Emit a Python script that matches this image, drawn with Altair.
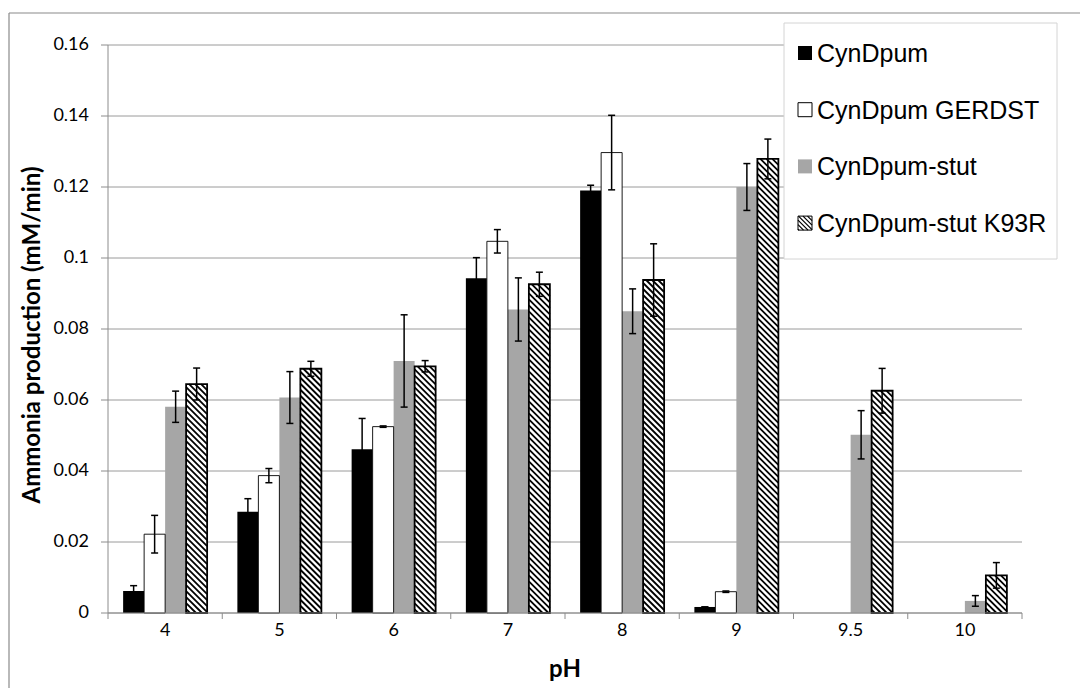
import altair as alt
import pandas as pd

# pH groups along the x axis and the four enzyme variants
ph_labels = ["4", "5", "6", "7", "8", "9", "9.5", "10"]
series = ["CynDpum", "CynDpum GERDST", "CynDpum-stut", "CynDpum-stut K93R"]

# ammonia production rates (mM/min) and their error bars; None = not measured
cyndpum = [0.0062, 0.0285, 0.0461, 0.0943, 0.1190, 0.0017, None, None]
cyndpum_err = [0.0015, 0.0037, 0.0087, 0.0058, 0.0015, 0.0, None, None]
gerdst = [0.0222, 0.0387, 0.0525, 0.1047, 0.1297, 0.0060, None, None]
gerdst_err = [0.0053, 0.0020, 0.0002, 0.0033, 0.0105, 0.0002, None, None]
stut = [0.0581, 0.0607, 0.0710, 0.0855, 0.0850, 0.1200, 0.0502, 0.0034]
stut_err = [0.0044, 0.0073, 0.0130, 0.0089, 0.0063, 0.0066, 0.0068, 0.0015]
k93r = [0.0645, 0.0688, 0.0695, 0.0926, 0.0938, 0.1279, 0.0626, 0.0106]
k93r_err = [0.0045, 0.0021, 0.0016, 0.0034, 0.0102, 0.0056, 0.0063, 0.0036]

y_ticks = [0, 0.02, 0.04, 0.06, 0.08, 0.1, 0.12, 0.14, 0.16]
y_title = "Ammonia production (mM/min)"
x_title = "pH"

fills = ["#000000", "#ffffff", "#a6a6a6", "#ffffff"]
hatched = {"CynDpum-stut K93R"}
outlined = {"CynDpum GERDST", "CynDpum-stut K93R"}
AXIS_GREY = "#8c8c8c"
GRID_GREY = "#9a9a9a"

# plot geometry (pixels)
W, H = 914, 568
Y_MAX = 0.16
N = len(ph_labels)
PX_X = W / N                   # pixels per group
PX_Y = H / Y_MAX               # pixels per mM/min
BAR_W = 21 / PX_X              # bar width in group units
PAD = (1 - 4 * BAR_W) / 2
CAP = 3.5 / PX_X
HATCH_STEP = 6                 # horizontal stripe spacing, px


def px_to_x(px):
    return px / PX_X


def px_to_y(py):
    return Y_MAX - py / PX_Y


values = [cyndpum, gerdst, stut, k93r]
errors = [cyndpum_err, gerdst_err, stut_err, k93r_err]


def stripes(left, top, w, h, step):
    """Diagonal '\\' stripes clipped to a w x h pixel box at (left, top)."""
    segs = []
    c = -w
    while c < h:
        u0, u1 = max(0.0, -c), min(w, h - c)
        if u1 > u0:
            segs.append((left + u0, top + u0 + c, left + u1, top + u1 + c))
        c += step
    return segs


bars, errs, hatch = [], [], []
for k, (name, vals, es) in enumerate(zip(series, values, errors)):
    for i, (v, e) in enumerate(zip(vals, es)):
        if v is None:
            continue
        x0 = i + PAD + k * BAR_W
        xc = x0 + BAR_W / 2
        bars.append(dict(series=name, ph=ph_labels[i], x=x0, x2=x0 + BAR_W, y=v, y2=0.0))
        if e is not None:
            errs.append(dict(x=xc, x2=xc, y=v - e, y2=v + e))
            errs.append(dict(x=xc - CAP, x2=xc + CAP, y=v + e, y2=v + e))
            errs.append(dict(x=xc - CAP, x2=xc + CAP, y=v - e, y2=v - e))
        if name in hatched:
            for a, b, c2, d in stripes(x0 * PX_X, (Y_MAX - v) * PX_Y, BAR_W * PX_X, v * PX_Y, HATCH_STEP):
                hatch.append(dict(x=px_to_x(a), y=px_to_y(b), x2=px_to_x(c2), y2=px_to_y(d)))

bars_df = pd.DataFrame(bars)
errs_df = pd.DataFrame(errs)

color = alt.Color("series:N", scale=alt.Scale(domain=series, range=fills), legend=None)
x_scale = alt.Scale(domain=[0, N], nice=False, zero=False)
y_scale = alt.Scale(domain=[0, Y_MAX], nice=False, zero=False)


def box_layer(df, mark, **enc):
    return alt.Chart(df).mark_rect(**mark).encode(
        x=alt.X("x:Q", axis=None), x2="x2:Q",
        y=alt.Y("y:Q", axis=None), y2="y2:Q", **enc,
    )


def seg_layer(df, **mark):
    return alt.Chart(df).mark_rule(**mark).encode(
        x=alt.X("x:Q", axis=None), x2="x2:Q",
        y=alt.Y("y:Q", axis=None), y2="y2:Q",
    )


def text_layer(df, **mark):
    return alt.Chart(df).mark_text(**mark).encode(
        x=alt.X("x:Q", axis=None), y=alt.Y("y:Q", axis=None), text="label:N",
    )


# --- axes, ticks and gridlines ---
grid_df = pd.DataFrame({"x": [0.0] * len(y_ticks), "x2": [float(N)] * len(y_ticks),
                        "y": y_ticks, "y2": y_ticks})
grid = alt.Chart(grid_df).mark_rule(color=GRID_GREY, strokeWidth=1).encode(
    x=alt.X("x:Q", scale=x_scale, axis=None), x2="x2:Q",
    y=alt.Y("y:Q", scale=y_scale, axis=None), y2="y2:Q",
)

axis_lines = seg_layer(pd.DataFrame(
    [dict(x=0.0, x2=0.0, y=0.0, y2=Y_MAX), dict(x=0.0, x2=float(N), y=0.0, y2=0.0)]
    + [dict(x=px_to_x(-7), x2=0.0, y=t, y2=t) for t in y_ticks]
    + [dict(x=float(i), x2=float(i), y=0.0, y2=px_to_y(H + 6)) for i in range(N + 1)]
), color=AXIS_GREY, strokeWidth=1)

y_labels = text_layer(pd.DataFrame({
    "label": [f"{t:g}" for t in y_ticks], "x": [0.0] * len(y_ticks), "y": y_ticks,
}), font="Lato", fontSize=18, color="#000000", align="right", baseline="middle", dx=-19)

x_labels = text_layer(pd.DataFrame({
    "label": ph_labels, "x": [i + 0.5 for i in range(N)], "y": [0.0] * N,
}), font="Lato", fontSize=18, color="#000000", align="center", baseline="middle", dy=18)

titles = alt.Chart(pd.DataFrame({"label": [x_title, y_title],
                                 "x": [N / 2, px_to_x(-75)],
                                 "y": [px_to_y(H + 57), px_to_y(H / 2 + 6)],
                                 "angle": [0, 270]})).mark_text(
    font="Lato", fontSize=24, fontWeight="bold", color="#000000",
    align="center", baseline="middle",
).encode(
    x=alt.X("x:Q", axis=None), y=alt.Y("y:Q", axis=None), text="label:N",
    angle=alt.Angle("angle:Q", scale=None),
)

# --- bars ---
base_bars = box_layer(bars_df, dict(strokeWidth=0), fill=color)

hatch_layer = seg_layer(pd.DataFrame(hatch), color="#000000", strokeWidth=1.8, strokeCap="butt")

outline = box_layer(
    bars_df, dict(fillOpacity=0, stroke="#000000"),
    strokeWidth=alt.condition(
        alt.FieldEqualPredicate(field="series", equal="CynDpum-stut K93R"),
        alt.value(1.8), alt.value(0.9)),
).transform_filter(alt.FieldOneOfPredicate(field="series", oneOf=sorted(outlined)))

err_layer = seg_layer(errs_df, color="#000000", strokeWidth=1.5)

# outer frame around the whole figure (left and top edges fall inside the canvas)
fx0, fx1 = px_to_x(-99), px_to_x(W + 200)
fy0, fy1 = px_to_y(-32), px_to_y(H + 200)
frame = seg_layer(
    pd.DataFrame([
        dict(x=fx0, x2=fx1, y=fy0, y2=fy0),
        dict(x=fx0, x2=fx0, y=fy0, y2=fy1),
    ]),
    color="#8a8a8a", strokeWidth=1.2,
)

# --- legend, placed in the upper-right corner of the plot ---
LG_X, LG_Y, LG_W, LG_H = 676, -22, 273, 236
SYM_X, SYM = 690, 14
rows_py = [8 + 56.7 * i for i in range(len(series))]
leg_df = pd.DataFrame({
    "series": series,
    "x": [px_to_x(SYM_X)] * len(series),
    "x2": [px_to_x(SYM_X + SYM)] * len(series),
    "y": [px_to_y(p - SYM / 2) for p in rows_py],
    "y2": [px_to_y(p + SYM / 2) for p in rows_py],
})
leg_text_df = pd.DataFrame({
    "label": series,
    "x": [px_to_x(SYM_X + 19)] * len(series),
    "y": [px_to_y(p + 1) for p in rows_py],
})

leg_box = box_layer(
    pd.DataFrame([dict(x=px_to_x(LG_X), x2=px_to_x(LG_X + LG_W),
                       y=px_to_y(LG_Y), y2=px_to_y(LG_Y + LG_H))]),
    dict(fill="#ffffff", stroke="#d4d4d4", strokeWidth=1),
)

leg_sym = box_layer(leg_df, dict(strokeWidth=0), fill=color)
leg_outline = box_layer(
    leg_df, dict(fillOpacity=0, stroke="#000000", strokeWidth=1),
).transform_filter(alt.FieldOneOfPredicate(field="series", oneOf=sorted(outlined)))

leg_hatch_rows = []
for name, p in zip(series, rows_py):
    if name in hatched:
        for a, b, c2, d in stripes(SYM_X, p - SYM / 2, SYM, SYM, 4.5):
            leg_hatch_rows.append(dict(x=px_to_x(a), y=px_to_y(b), x2=px_to_x(c2), y2=px_to_y(d)))
leg_hatch = seg_layer(pd.DataFrame(leg_hatch_rows), color="#000000", strokeWidth=1.2, strokeCap="butt")

leg_text = text_layer(leg_text_df, align="left", baseline="middle",
                      font="Liberation Sans", fontSize=25, color="#000000")

chart = alt.layer(
    grid, base_bars, hatch_layer, outline, err_layer, axis_lines,
    y_labels, x_labels, titles,
    frame, leg_box, leg_sym, leg_outline, leg_hatch, leg_text,
).properties(
    width=W, height=H,
    padding={"left": 108, "top": 45, "right": 58, "bottom": 75},
    autosize=alt.AutoSizeParams(type="none"),
    background="#ffffff",
).configure_view(
    stroke=None
)

chart.save("out.html", embed_options={"renderer": "svg", "actions": False})
